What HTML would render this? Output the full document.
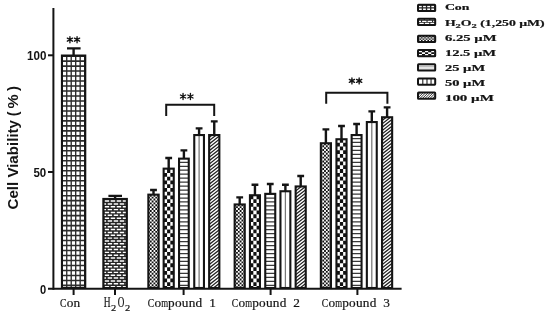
<!DOCTYPE html>
<html><head><meta charset="utf-8"><title>Cell Viability</title>
<style>
html,body{margin:0;padding:0;background:#fff;}
body{width:550px;height:316px;overflow:hidden;font-family:"Liberation Sans",sans-serif;}
svg{display:block;filter:blur(0.45px);}
.ax{font-family:"Liberation Sans",sans-serif;font-weight:bold;fill:#141414;}
.xs{font-family:"Liberation Serif",serif;fill:#141414;stroke:#141414;stroke-width:0.2px;}
.lg{font-family:"Liberation Serif",serif;font-weight:bold;fill:#141414;stroke:#141414;stroke-width:0.2px;}
</style></head><body>
<svg width="550" height="316" viewBox="0 0 550 316">
<defs>
<clipPath id="c1"><rect x="61.95" y="55.55" width="23.30" height="232.45"/></clipPath>
<clipPath id="c2"><rect x="103.35" y="198.95" width="23.50" height="89.05"/></clipPath>
<clipPath id="c3"><rect x="148.35" y="194.65" width="10.30" height="93.35"/></clipPath>
<clipPath id="c4"><rect x="163.65" y="168.65" width="10.10" height="119.35"/></clipPath>
<clipPath id="c5"><rect x="179.05" y="158.65" width="9.70" height="129.35"/></clipPath>
<clipPath id="c6"><rect x="194.25" y="135.05" width="9.70" height="152.95"/></clipPath>
<clipPath id="c7"><rect x="209.15" y="135.05" width="10.20" height="152.95"/></clipPath>
<clipPath id="c8"><rect x="234.65" y="204.45" width="10.10" height="83.55"/></clipPath>
<clipPath id="c9"><rect x="249.95" y="195.25" width="10.00" height="92.75"/></clipPath>
<clipPath id="c10"><rect x="265.25" y="193.85" width="10.00" height="94.15"/></clipPath>
<clipPath id="c11"><rect x="280.45" y="191.25" width="9.90" height="96.75"/></clipPath>
<clipPath id="c12"><rect x="295.65" y="186.45" width="10.10" height="101.55"/></clipPath>
<clipPath id="c13"><rect x="320.85" y="143.25" width="10.10" height="144.75"/></clipPath>
<clipPath id="c14"><rect x="336.45" y="139.25" width="10.10" height="148.75"/></clipPath>
<clipPath id="c15"><rect x="351.65" y="135.05" width="9.90" height="152.95"/></clipPath>
<clipPath id="c16"><rect x="366.85" y="122.05" width="9.90" height="165.95"/></clipPath>
<clipPath id="c17"><rect x="382.05" y="117.25" width="10.10" height="170.75"/></clipPath>
<clipPath id="c18"><rect x="418.00" y="4.80" width="17.20" height="6.30"/></clipPath>
<clipPath id="c19"><rect x="418.00" y="18.80" width="17.20" height="6.30"/></clipPath>
<clipPath id="c20"><rect x="418.00" y="35.80" width="17.20" height="6.30"/></clipPath>
<clipPath id="c21"><rect x="418.00" y="50.05" width="17.20" height="6.30"/></clipPath>
<clipPath id="c22"><rect x="418.00" y="64.30" width="17.20" height="6.30"/></clipPath>
<clipPath id="c23"><rect x="418.00" y="78.40" width="17.20" height="6.30"/></clipPath>
<clipPath id="c24"><rect x="418.00" y="92.55" width="17.20" height="6.30"/></clipPath>
</defs>
<rect width="550" height="316" fill="#fff"/>
<g stroke="#141414" stroke-width="2" fill="none">
<line x1="53.4" y1="8" x2="53.4" y2="289.8"/>
<line x1="48" y1="288.8" x2="401.6" y2="288.8"/>
<line x1="48" y1="172" x2="53" y2="172"/>
<line x1="48" y1="55.3" x2="53" y2="55.3"/>
<line x1="73.6" y1="289" x2="73.6" y2="295"/>
<line x1="115.0" y1="289" x2="115.0" y2="295"/>
<line x1="183.6" y1="289" x2="183.6" y2="295"/>
<line x1="270.6" y1="289" x2="270.6" y2="295"/>
<line x1="357.4" y1="289" x2="357.4" y2="295"/>
</g>
<path d="M73.60 48.20V55.50M67.00 48.40H80.60" stroke="#141414" stroke-width="2.4" fill="none"/>
<g clip-path="url(#c1)"><rect x="61.95" y="55.55" width="23.30" height="232.45" fill="#fff"/><path d="M57.78 55.55V288.00M62.26 55.55V288.00M66.74 55.55V288.00M71.22 55.55V288.00M75.70 55.55V288.00M80.18 55.55V288.00M84.66 55.55V288.00M89.14 55.55V288.00" stroke="#2c2c2c" stroke-width="1.35" fill="none"/><path d="M61.95 51.12H85.25M61.95 56.11H85.25M61.95 61.09H85.25M61.95 66.08H85.25M61.95 71.06H85.25M61.95 76.05H85.25M61.95 81.03H85.25M61.95 86.02H85.25M61.95 91.00H85.25M61.95 95.99H85.25M61.95 100.97H85.25M61.95 105.96H85.25M61.95 110.94H85.25M61.95 115.93H85.25M61.95 120.91H85.25M61.95 125.90H85.25M61.95 130.88H85.25M61.95 135.87H85.25M61.95 140.85H85.25M61.95 145.84H85.25M61.95 150.82H85.25M61.95 155.81H85.25M61.95 160.79H85.25M61.95 165.78H85.25M61.95 170.76H85.25M61.95 175.75H85.25M61.95 180.73H85.25M61.95 185.72H85.25M61.95 190.70H85.25M61.95 195.69H85.25M61.95 200.67H85.25M61.95 205.66H85.25M61.95 210.64H85.25M61.95 215.63H85.25M61.95 220.61H85.25M61.95 225.60H85.25M61.95 230.58H85.25M61.95 235.57H85.25M61.95 240.55H85.25M61.95 245.54H85.25M61.95 250.52H85.25M61.95 255.51H85.25M61.95 260.49H85.25M61.95 265.48H85.25M61.95 270.46H85.25M61.95 275.45H85.25M61.95 280.43H85.25M61.95 285.42H85.25M61.95 290.40H85.25" stroke="#2c2c2c" stroke-width="1.60" fill="none"/></g>
<rect x="61.95" y="55.55" width="23.30" height="232.45" fill="none" stroke="#141414" stroke-width="2.10"/>
<path d="M115.10 195.70V198.90M108.40 195.90H122.00" stroke="#141414" stroke-width="2.4" fill="none"/>
<g clip-path="url(#c2)"><rect x="103.35" y="198.95" width="23.50" height="89.05" fill="#262626"/><path d="M-15.90 201.05H132.88M-15.90 206.75H132.88M-15.90 212.46H132.88M-15.90 218.16H132.88M-15.90 223.87H132.88M-15.90 229.57H132.88M-15.90 235.27H132.88M-15.90 240.98H132.88M-15.90 246.68H132.88M-15.90 252.39H132.88M-15.90 258.09H132.88M-15.90 263.79H132.88M-15.90 269.50H132.88M-15.90 275.20H132.88M-15.90 280.91H132.88M-15.90 286.61H132.88" stroke="#fff" stroke-width="1.45" stroke-dasharray="4.400 1.630" fill="none"/><path d="M-18.92 198.20H132.88M-18.92 203.90H132.88M-18.92 209.61H132.88M-18.92 215.31H132.88M-18.92 221.01H132.88M-18.92 226.72H132.88M-18.92 232.42H132.88M-18.92 238.13H132.88M-18.92 243.83H132.88M-18.92 249.53H132.88M-18.92 255.24H132.88M-18.92 260.94H132.88M-18.92 266.65H132.88M-18.92 272.35H132.88M-18.92 278.05H132.88M-18.92 283.76H132.88M-18.92 289.46H132.88" stroke="#fff" stroke-width="1.45" stroke-dasharray="4.400 1.630" fill="none"/></g>
<rect x="103.35" y="198.95" width="23.50" height="89.05" fill="none" stroke="#141414" stroke-width="2.10"/>
<path d="M153.50 189.80V194.60M150.10 190.00H156.90" stroke="#141414" stroke-width="2.4" fill="none"/>
<g clip-path="url(#c3)"><rect x="148.35" y="194.65" width="10.30" height="93.35" fill="#fff"/><path d="M79.09 193.80H162.28M79.09 197.61H162.28M79.09 201.42H162.28M79.09 205.23H162.28M79.09 209.04H162.28M79.09 212.85H162.28M79.09 216.66H162.28M79.09 220.47H162.28M79.09 224.28H162.28M79.09 228.09H162.28M79.09 231.90H162.28M79.09 235.71H162.28M79.09 239.52H162.28M79.09 243.33H162.28M79.09 247.14H162.28M79.09 250.95H162.28M79.09 254.76H162.28M79.09 258.57H162.28M79.09 262.38H162.28M79.09 266.19H162.28M79.09 270.00H162.28M79.09 273.81H162.28M79.09 277.62H162.28M79.09 281.43H162.28M79.09 285.24H162.28M79.09 289.05H162.28" stroke="#111" stroke-width="1.91" stroke-dasharray="1.815 1.815" fill="none"/><path d="M80.90 195.71H162.28M80.90 199.52H162.28M80.90 203.33H162.28M80.90 207.14H162.28M80.90 210.95H162.28M80.90 214.76H162.28M80.90 218.57H162.28M80.90 222.38H162.28M80.90 226.19H162.28M80.90 230.00H162.28M80.90 233.81H162.28M80.90 237.62H162.28M80.90 241.43H162.28M80.90 245.24H162.28M80.90 249.05H162.28M80.90 252.86H162.28M80.90 256.67H162.28M80.90 260.48H162.28M80.90 264.29H162.28M80.90 268.10H162.28M80.90 271.91H162.28M80.90 275.72H162.28M80.90 279.53H162.28M80.90 283.34H162.28M80.90 287.14H162.28" stroke="#111" stroke-width="1.91" stroke-dasharray="1.815 1.815" fill="none"/></g>
<rect x="148.35" y="194.65" width="10.30" height="93.35" fill="none" stroke="#141414" stroke-width="2.10"/>
<path d="M168.70 157.80V168.60M165.30 158.00H172.10" stroke="#141414" stroke-width="2.4" fill="none"/>
<g clip-path="url(#c4)"><rect x="163.65" y="168.65" width="10.10" height="119.35" fill="#fff"/><path d="M37.48 171.00H180.23M37.48 178.54H180.23M37.48 186.08H180.23M37.48 193.62H180.23M37.48 201.16H180.23M37.48 208.70H180.23M37.48 216.24H180.23M37.48 223.78H180.23M37.48 231.32H180.23M37.48 238.86H180.23M37.48 246.40H180.23M37.48 253.94H180.23M37.48 261.48H180.23M37.48 269.02H180.23M37.48 276.56H180.23M37.48 284.10H180.23M37.48 291.64H180.23" stroke="#111" stroke-width="3.77" stroke-dasharray="3.240 3.240" fill="none"/><path d="M40.72 167.23H180.23M40.72 174.77H180.23M40.72 182.31H180.23M40.72 189.85H180.23M40.72 197.39H180.23M40.72 204.93H180.23M40.72 212.47H180.23M40.72 220.01H180.23M40.72 227.55H180.23M40.72 235.09H180.23M40.72 242.63H180.23M40.72 250.17H180.23M40.72 257.71H180.23M40.72 265.25H180.23M40.72 272.79H180.23M40.72 280.33H180.23M40.72 287.87H180.23" stroke="#111" stroke-width="3.77" stroke-dasharray="3.240 3.240" fill="none"/></g>
<rect x="163.65" y="168.65" width="10.10" height="119.35" fill="none" stroke="#141414" stroke-width="2.10"/>
<path d="M183.90 150.20V158.60M180.50 150.40H187.30" stroke="#141414" stroke-width="2.4" fill="none"/>
<g clip-path="url(#c5)"><rect x="179.05" y="158.65" width="9.70" height="129.35" fill="#fff"/><path d="M179.05 158.33H188.75M179.05 162.30H188.75M179.05 166.27H188.75M179.05 170.23H188.75M179.05 174.20H188.75M179.05 178.17H188.75M179.05 182.14H188.75M179.05 186.10H188.75M179.05 190.07H188.75M179.05 194.04H188.75M179.05 198.00H188.75M179.05 201.97H188.75M179.05 205.94H188.75M179.05 209.90H188.75M179.05 213.87H188.75M179.05 217.84H188.75M179.05 221.81H188.75M179.05 225.77H188.75M179.05 229.74H188.75M179.05 233.71H188.75M179.05 237.67H188.75M179.05 241.64H188.75M179.05 245.61H188.75M179.05 249.57H188.75M179.05 253.54H188.75M179.05 257.51H188.75M179.05 261.48H188.75M179.05 265.44H188.75M179.05 269.41H188.75M179.05 273.38H188.75M179.05 277.34H188.75M179.05 281.31H188.75M179.05 285.28H188.75M179.05 289.24H188.75" stroke="#3a3a3a" stroke-width="1.25" fill="none"/></g>
<rect x="179.05" y="158.65" width="9.70" height="129.35" fill="none" stroke="#141414" stroke-width="2.10"/>
<path d="M199.10 128.20V135.00M195.70 128.40H202.50" stroke="#141414" stroke-width="2.4" fill="none"/>
<g clip-path="url(#c6)"><rect x="194.25" y="135.05" width="9.70" height="152.95" fill="#fff"/><path d="M199.10 135.05V288.00" stroke="#777" stroke-width="1.25" fill="none"/></g>
<rect x="194.25" y="135.05" width="9.70" height="152.95" fill="none" stroke="#141414" stroke-width="2.10"/>
<path d="M214.25 121.20V135.00M210.85 121.40H217.65" stroke="#141414" stroke-width="2.4" fill="none"/>
<g clip-path="url(#c7)"><rect x="209.15" y="135.05" width="10.20" height="152.95" fill="#fff"/><path d="M208.15 131.44L220.35 121.80M208.15 134.79L220.35 125.15M208.15 138.14L220.35 128.50M208.15 141.49L220.35 131.85M208.15 144.84L220.35 135.20M208.15 148.19L220.35 138.55M208.15 151.54L220.35 141.90M208.15 154.89L220.35 145.25M208.15 158.24L220.35 148.60M208.15 161.59L220.35 151.95M208.15 164.94L220.35 155.30M208.15 168.29L220.35 158.65M208.15 171.64L220.35 162.00M208.15 174.99L220.35 165.35M208.15 178.34L220.35 168.70M208.15 181.69L220.35 172.05M208.15 185.04L220.35 175.40M208.15 188.39L220.35 178.75M208.15 191.74L220.35 182.10M208.15 195.09L220.35 185.45M208.15 198.44L220.35 188.80M208.15 201.79L220.35 192.15M208.15 205.14L220.35 195.50M208.15 208.49L220.35 198.85M208.15 211.84L220.35 202.20M208.15 215.19L220.35 205.55M208.15 218.54L220.35 208.90M208.15 221.89L220.35 212.25M208.15 225.24L220.35 215.60M208.15 228.59L220.35 218.95M208.15 231.94L220.35 222.30M208.15 235.29L220.35 225.65M208.15 238.64L220.35 229.00M208.15 241.99L220.35 232.35M208.15 245.34L220.35 235.70M208.15 248.69L220.35 239.05M208.15 252.04L220.35 242.40M208.15 255.39L220.35 245.75M208.15 258.74L220.35 249.10M208.15 262.09L220.35 252.45M208.15 265.44L220.35 255.80M208.15 268.79L220.35 259.15M208.15 272.14L220.35 262.50M208.15 275.49L220.35 265.85M208.15 278.84L220.35 269.20M208.15 282.19L220.35 272.55M208.15 285.54L220.35 275.90M208.15 288.89L220.35 279.25M208.15 292.24L220.35 282.60M208.15 295.59L220.35 285.95M208.15 298.94L220.35 289.30" stroke="#222" stroke-width="1.25" fill="none"/></g>
<rect x="209.15" y="135.05" width="10.20" height="152.95" fill="none" stroke="#141414" stroke-width="2.10"/>
<path d="M239.70 197.20V204.40M236.30 197.40H243.10" stroke="#141414" stroke-width="2.4" fill="none"/>
<g clip-path="url(#c8)"><rect x="234.65" y="204.45" width="10.10" height="83.55" fill="#fff"/><path d="M165.28 205.23H248.38M165.28 209.04H248.38M165.28 212.85H248.38M165.28 216.66H248.38M165.28 220.47H248.38M165.28 224.28H248.38M165.28 228.09H248.38M165.28 231.90H248.38M165.28 235.71H248.38M165.28 239.52H248.38M165.28 243.33H248.38M165.28 247.14H248.38M165.28 250.95H248.38M165.28 254.76H248.38M165.28 258.57H248.38M165.28 262.38H248.38M165.28 266.19H248.38M165.28 270.00H248.38M165.28 273.81H248.38M165.28 277.62H248.38M165.28 281.43H248.38M165.28 285.24H248.38M165.28 289.05H248.38" stroke="#111" stroke-width="1.91" stroke-dasharray="1.815 1.815" fill="none"/><path d="M167.10 203.33H248.38M167.10 207.14H248.38M167.10 210.95H248.38M167.10 214.76H248.38M167.10 218.57H248.38M167.10 222.38H248.38M167.10 226.19H248.38M167.10 230.00H248.38M167.10 233.81H248.38M167.10 237.62H248.38M167.10 241.43H248.38M167.10 245.24H248.38M167.10 249.05H248.38M167.10 252.86H248.38M167.10 256.67H248.38M167.10 260.48H248.38M167.10 264.29H248.38M167.10 268.10H248.38M167.10 271.91H248.38M167.10 275.72H248.38M167.10 279.53H248.38M167.10 283.34H248.38M167.10 287.14H248.38" stroke="#111" stroke-width="1.91" stroke-dasharray="1.815 1.815" fill="none"/></g>
<rect x="234.65" y="204.45" width="10.10" height="83.55" fill="none" stroke="#141414" stroke-width="2.10"/>
<path d="M254.95 184.60V195.20M251.55 184.80H258.35" stroke="#141414" stroke-width="2.4" fill="none"/>
<g clip-path="url(#c9)"><rect x="249.95" y="195.25" width="10.00" height="92.75" fill="#fff"/><path d="M123.73 193.62H266.43M123.73 201.16H266.43M123.73 208.70H266.43M123.73 216.24H266.43M123.73 223.78H266.43M123.73 231.32H266.43M123.73 238.86H266.43M123.73 246.40H266.43M123.73 253.94H266.43M123.73 261.48H266.43M123.73 269.02H266.43M123.73 276.56H266.43M123.73 284.10H266.43M123.73 291.64H266.43" stroke="#111" stroke-width="3.77" stroke-dasharray="3.240 3.240" fill="none"/><path d="M126.97 197.39H266.43M126.97 204.93H266.43M126.97 212.47H266.43M126.97 220.01H266.43M126.97 227.55H266.43M126.97 235.09H266.43M126.97 242.63H266.43M126.97 250.17H266.43M126.97 257.71H266.43M126.97 265.25H266.43M126.97 272.79H266.43M126.97 280.33H266.43M126.97 287.87H266.43" stroke="#111" stroke-width="3.77" stroke-dasharray="3.240 3.240" fill="none"/></g>
<rect x="249.95" y="195.25" width="10.00" height="92.75" fill="none" stroke="#141414" stroke-width="2.10"/>
<path d="M270.25 183.80V193.80M266.85 184.00H273.65" stroke="#141414" stroke-width="2.4" fill="none"/>
<g clip-path="url(#c10)"><rect x="265.25" y="193.85" width="10.00" height="94.15" fill="#fff"/><path d="M265.25 190.07H275.25M265.25 194.04H275.25M265.25 198.00H275.25M265.25 201.97H275.25M265.25 205.94H275.25M265.25 209.90H275.25M265.25 213.87H275.25M265.25 217.84H275.25M265.25 221.81H275.25M265.25 225.77H275.25M265.25 229.74H275.25M265.25 233.71H275.25M265.25 237.67H275.25M265.25 241.64H275.25M265.25 245.61H275.25M265.25 249.57H275.25M265.25 253.54H275.25M265.25 257.51H275.25M265.25 261.48H275.25M265.25 265.44H275.25M265.25 269.41H275.25M265.25 273.38H275.25M265.25 277.34H275.25M265.25 281.31H275.25M265.25 285.28H275.25M265.25 289.24H275.25" stroke="#3a3a3a" stroke-width="1.25" fill="none"/></g>
<rect x="265.25" y="193.85" width="10.00" height="94.15" fill="none" stroke="#141414" stroke-width="2.10"/>
<path d="M285.40 184.60V191.20M282.00 184.80H288.80" stroke="#141414" stroke-width="2.4" fill="none"/>
<g clip-path="url(#c11)"><rect x="280.45" y="191.25" width="9.90" height="96.75" fill="#fff"/><path d="M285.40 191.25V288.00" stroke="#777" stroke-width="1.25" fill="none"/></g>
<rect x="280.45" y="191.25" width="9.90" height="96.75" fill="none" stroke="#141414" stroke-width="2.10"/>
<path d="M300.70 175.80V186.40M297.30 176.00H304.10" stroke="#141414" stroke-width="2.4" fill="none"/>
<g clip-path="url(#c12)"><rect x="295.65" y="186.45" width="10.10" height="101.55" fill="#fff"/><path d="M294.65 181.69L306.75 172.13M294.65 185.04L306.75 175.48M294.65 188.39L306.75 178.83M294.65 191.74L306.75 182.18M294.65 195.09L306.75 185.53M294.65 198.44L306.75 188.88M294.65 201.79L306.75 192.23M294.65 205.14L306.75 195.58M294.65 208.49L306.75 198.93M294.65 211.84L306.75 202.28M294.65 215.19L306.75 205.63M294.65 218.54L306.75 208.98M294.65 221.89L306.75 212.33M294.65 225.24L306.75 215.68M294.65 228.59L306.75 219.03M294.65 231.94L306.75 222.38M294.65 235.29L306.75 225.73M294.65 238.64L306.75 229.08M294.65 241.99L306.75 232.43M294.65 245.34L306.75 235.78M294.65 248.69L306.75 239.13M294.65 252.04L306.75 242.48M294.65 255.39L306.75 245.83M294.65 258.74L306.75 249.18M294.65 262.09L306.75 252.53M294.65 265.44L306.75 255.88M294.65 268.79L306.75 259.23M294.65 272.14L306.75 262.58M294.65 275.49L306.75 265.93M294.65 278.84L306.75 269.28M294.65 282.19L306.75 272.63M294.65 285.54L306.75 275.98M294.65 288.89L306.75 279.33M294.65 292.24L306.75 282.68M294.65 295.59L306.75 286.03M294.65 298.94L306.75 289.38" stroke="#222" stroke-width="1.25" fill="none"/></g>
<rect x="295.65" y="186.45" width="10.10" height="101.55" fill="none" stroke="#141414" stroke-width="2.10"/>
<path d="M325.90 129.20V143.20M322.50 129.40H329.30" stroke="#141414" stroke-width="2.4" fill="none"/>
<g clip-path="url(#c13)"><rect x="320.85" y="143.25" width="10.10" height="144.75" fill="#fff"/><path d="M251.48 144.27H334.58M251.48 148.08H334.58M251.48 151.89H334.58M251.48 155.70H334.58M251.48 159.51H334.58M251.48 163.32H334.58M251.48 167.13H334.58M251.48 170.94H334.58M251.48 174.75H334.58M251.48 178.56H334.58M251.48 182.37H334.58M251.48 186.18H334.58M251.48 189.99H334.58M251.48 193.80H334.58M251.48 197.61H334.58M251.48 201.42H334.58M251.48 205.23H334.58M251.48 209.04H334.58M251.48 212.85H334.58M251.48 216.66H334.58M251.48 220.47H334.58M251.48 224.28H334.58M251.48 228.09H334.58M251.48 231.90H334.58M251.48 235.71H334.58M251.48 239.52H334.58M251.48 243.33H334.58M251.48 247.14H334.58M251.48 250.95H334.58M251.48 254.76H334.58M251.48 258.57H334.58M251.48 262.38H334.58M251.48 266.19H334.58M251.48 270.00H334.58M251.48 273.81H334.58M251.48 277.62H334.58M251.48 281.43H334.58M251.48 285.24H334.58M251.48 289.05H334.58" stroke="#111" stroke-width="1.91" stroke-dasharray="1.815 1.815" fill="none"/><path d="M253.30 142.37H334.58M253.30 146.18H334.58M253.30 149.99H334.58M253.30 153.80H334.58M253.30 157.61H334.58M253.30 161.42H334.58M253.30 165.23H334.58M253.30 169.04H334.58M253.30 172.85H334.58M253.30 176.66H334.58M253.30 180.47H334.58M253.30 184.28H334.58M253.30 188.09H334.58M253.30 191.90H334.58M253.30 195.71H334.58M253.30 199.52H334.58M253.30 203.33H334.58M253.30 207.14H334.58M253.30 210.95H334.58M253.30 214.76H334.58M253.30 218.57H334.58M253.30 222.38H334.58M253.30 226.19H334.58M253.30 230.00H334.58M253.30 233.81H334.58M253.30 237.62H334.58M253.30 241.43H334.58M253.30 245.24H334.58M253.30 249.05H334.58M253.30 252.86H334.58M253.30 256.67H334.58M253.30 260.48H334.58M253.30 264.29H334.58M253.30 268.10H334.58M253.30 271.91H334.58M253.30 275.72H334.58M253.30 279.53H334.58M253.30 283.34H334.58M253.30 287.14H334.58" stroke="#111" stroke-width="1.91" stroke-dasharray="1.815 1.815" fill="none"/></g>
<rect x="320.85" y="143.25" width="10.10" height="144.75" fill="none" stroke="#141414" stroke-width="2.10"/>
<path d="M341.50 125.80V139.20M338.10 126.00H344.90" stroke="#141414" stroke-width="2.4" fill="none"/>
<g clip-path="url(#c14)"><rect x="336.45" y="139.25" width="10.10" height="148.75" fill="#fff"/><path d="M210.28 140.84H353.03M210.28 148.38H353.03M210.28 155.92H353.03M210.28 163.46H353.03M210.28 171.00H353.03M210.28 178.54H353.03M210.28 186.08H353.03M210.28 193.62H353.03M210.28 201.16H353.03M210.28 208.70H353.03M210.28 216.24H353.03M210.28 223.78H353.03M210.28 231.32H353.03M210.28 238.86H353.03M210.28 246.40H353.03M210.28 253.94H353.03M210.28 261.48H353.03M210.28 269.02H353.03M210.28 276.56H353.03M210.28 284.10H353.03M210.28 291.64H353.03" stroke="#111" stroke-width="3.77" stroke-dasharray="3.240 3.240" fill="none"/><path d="M213.52 137.07H353.03M213.52 144.61H353.03M213.52 152.15H353.03M213.52 159.69H353.03M213.52 167.23H353.03M213.52 174.77H353.03M213.52 182.31H353.03M213.52 189.85H353.03M213.52 197.39H353.03M213.52 204.93H353.03M213.52 212.47H353.03M213.52 220.01H353.03M213.52 227.55H353.03M213.52 235.09H353.03M213.52 242.63H353.03M213.52 250.17H353.03M213.52 257.71H353.03M213.52 265.25H353.03M213.52 272.79H353.03M213.52 280.33H353.03M213.52 287.87H353.03" stroke="#111" stroke-width="3.77" stroke-dasharray="3.240 3.240" fill="none"/></g>
<rect x="336.45" y="139.25" width="10.10" height="148.75" fill="none" stroke="#141414" stroke-width="2.10"/>
<path d="M356.60 123.80V135.00M353.20 124.00H360.00" stroke="#141414" stroke-width="2.4" fill="none"/>
<g clip-path="url(#c15)"><rect x="351.65" y="135.05" width="9.90" height="152.95" fill="#fff"/><path d="M351.65 134.53H361.55M351.65 138.50H361.55M351.65 142.47H361.55M351.65 146.43H361.55M351.65 150.40H361.55M351.65 154.37H361.55M351.65 158.33H361.55M351.65 162.30H361.55M351.65 166.27H361.55M351.65 170.23H361.55M351.65 174.20H361.55M351.65 178.17H361.55M351.65 182.14H361.55M351.65 186.10H361.55M351.65 190.07H361.55M351.65 194.04H361.55M351.65 198.00H361.55M351.65 201.97H361.55M351.65 205.94H361.55M351.65 209.90H361.55M351.65 213.87H361.55M351.65 217.84H361.55M351.65 221.81H361.55M351.65 225.77H361.55M351.65 229.74H361.55M351.65 233.71H361.55M351.65 237.67H361.55M351.65 241.64H361.55M351.65 245.61H361.55M351.65 249.57H361.55M351.65 253.54H361.55M351.65 257.51H361.55M351.65 261.48H361.55M351.65 265.44H361.55M351.65 269.41H361.55M351.65 273.38H361.55M351.65 277.34H361.55M351.65 281.31H361.55M351.65 285.28H361.55M351.65 289.24H361.55" stroke="#3a3a3a" stroke-width="1.25" fill="none"/></g>
<rect x="351.65" y="135.05" width="9.90" height="152.95" fill="none" stroke="#141414" stroke-width="2.10"/>
<path d="M371.80 111.20V122.00M368.40 111.40H375.20" stroke="#141414" stroke-width="2.4" fill="none"/>
<g clip-path="url(#c16)"><rect x="366.85" y="122.05" width="9.90" height="165.95" fill="#fff"/><path d="M371.80 122.05V288.00" stroke="#777" stroke-width="1.25" fill="none"/></g>
<rect x="366.85" y="122.05" width="9.90" height="165.95" fill="none" stroke="#141414" stroke-width="2.10"/>
<path d="M387.10 107.20V117.20M383.70 107.40H390.50" stroke="#141414" stroke-width="2.4" fill="none"/>
<g clip-path="url(#c17)"><rect x="382.05" y="117.25" width="10.10" height="170.75" fill="#fff"/><path d="M381.05 114.69L393.15 105.13M381.05 118.04L393.15 108.48M381.05 121.39L393.15 111.83M381.05 124.74L393.15 115.18M381.05 128.09L393.15 118.53M381.05 131.44L393.15 121.88M381.05 134.79L393.15 125.23M381.05 138.14L393.15 128.58M381.05 141.49L393.15 131.93M381.05 144.84L393.15 135.28M381.05 148.19L393.15 138.63M381.05 151.54L393.15 141.98M381.05 154.89L393.15 145.33M381.05 158.24L393.15 148.68M381.05 161.59L393.15 152.03M381.05 164.94L393.15 155.38M381.05 168.29L393.15 158.73M381.05 171.64L393.15 162.08M381.05 174.99L393.15 165.43M381.05 178.34L393.15 168.78M381.05 181.69L393.15 172.13M381.05 185.04L393.15 175.48M381.05 188.39L393.15 178.83M381.05 191.74L393.15 182.18M381.05 195.09L393.15 185.53M381.05 198.44L393.15 188.88M381.05 201.79L393.15 192.23M381.05 205.14L393.15 195.58M381.05 208.49L393.15 198.93M381.05 211.84L393.15 202.28M381.05 215.19L393.15 205.63M381.05 218.54L393.15 208.98M381.05 221.89L393.15 212.33M381.05 225.24L393.15 215.68M381.05 228.59L393.15 219.03M381.05 231.94L393.15 222.38M381.05 235.29L393.15 225.73M381.05 238.64L393.15 229.08M381.05 241.99L393.15 232.43M381.05 245.34L393.15 235.78M381.05 248.69L393.15 239.13M381.05 252.04L393.15 242.48M381.05 255.39L393.15 245.83M381.05 258.74L393.15 249.18M381.05 262.09L393.15 252.53M381.05 265.44L393.15 255.88M381.05 268.79L393.15 259.23M381.05 272.14L393.15 262.58M381.05 275.49L393.15 265.93M381.05 278.84L393.15 269.28M381.05 282.19L393.15 272.63M381.05 285.54L393.15 275.98M381.05 288.89L393.15 279.33M381.05 292.24L393.15 282.68M381.05 295.59L393.15 286.03M381.05 298.94L393.15 289.38" stroke="#222" stroke-width="1.25" fill="none"/></g>
<rect x="382.05" y="117.25" width="10.10" height="170.75" fill="none" stroke="#141414" stroke-width="2.10"/>
<g stroke="#141414" stroke-width="2" fill="none">
<polyline points="166.2,116 166.2,104.8 214.2,104.8 214.2,116"/>
<polyline points="326.2,103.8 326.2,92.8 387.4,92.8 387.4,103.8"/>
</g>
<path d="M69.93 36.70L69.93 42.70M67.33 38.20L72.53 41.20M72.53 38.20L67.33 41.20" stroke="#141414" stroke-width="1.35" stroke-linecap="round" fill="none"/><circle cx="69.93" cy="39.70" r="1.0" fill="#141414"/>
<path d="M77.06 36.70L77.06 42.70M74.46 38.20L79.66 41.20M79.66 38.20L74.46 41.20" stroke="#141414" stroke-width="1.35" stroke-linecap="round" fill="none"/><circle cx="77.06" cy="39.70" r="1.0" fill="#141414"/>
<path d="M183.05 93.50L183.05 99.50M180.45 95.00L185.65 98.00M185.65 95.00L180.45 98.00" stroke="#141414" stroke-width="1.35" stroke-linecap="round" fill="none"/><circle cx="183.05" cy="96.50" r="1.0" fill="#141414"/>
<path d="M190.43 93.50L190.43 99.50M187.83 95.00L193.03 98.00M193.03 95.00L187.83 98.00" stroke="#141414" stroke-width="1.35" stroke-linecap="round" fill="none"/><circle cx="190.43" cy="96.50" r="1.0" fill="#141414"/>
<path d="M351.93 77.90L351.93 83.90M349.33 79.40L354.53 82.40M354.53 79.40L349.33 82.40" stroke="#141414" stroke-width="1.35" stroke-linecap="round" fill="none"/><circle cx="351.93" cy="80.90" r="1.0" fill="#141414"/>
<path d="M359.16 77.90L359.16 83.90M356.56 79.40L361.76 82.40M361.76 79.40L356.56 82.40" stroke="#141414" stroke-width="1.35" stroke-linecap="round" fill="none"/><circle cx="359.16" cy="80.90" r="1.0" fill="#141414"/>
<text class="ax" x="27.0" y="60.2" font-size="12.8" textLength="19.4" lengthAdjust="spacingAndGlyphs">100</text>
<text class="ax" x="33.4" y="177.2" font-size="12.8" textLength="12.8" lengthAdjust="spacingAndGlyphs">50</text>
<text class="ax" x="40.0" y="293.9" font-size="12.8" textLength="6.2" lengthAdjust="spacingAndGlyphs">0</text>
<g transform="translate(17.8,209.5) rotate(-90)" font-size="14.6"><text class="ax" x="0" y="0" textLength="89.5" lengthAdjust="spacingAndGlyphs">Cell Viability</text><text class="ax" x="93.2" y="0">(</text><text class="ax" x="101.0" y="0" textLength="14.2" lengthAdjust="spacingAndGlyphs">%</text><text class="ax" x="118.4" y="0">)</text></g>
<text class="xs" x="60.08" y="307.4" font-size="13.3" textLength="6.4" lengthAdjust="spacingAndGlyphs">C</text><text class="xs" x="70.10" y="307.4" font-size="13.3" text-anchor="middle">o</text><text class="xs" x="76.92" y="307.4" font-size="13.3" text-anchor="middle">n</text>
<text class="xs" x="103.7" y="307.2" font-size="13.8" textLength="6.8" lengthAdjust="spacingAndGlyphs">H</text><text class="xs" x="111.0" y="311.2" font-size="8.8" textLength="5.2" lengthAdjust="spacingAndGlyphs">2</text><text class="xs" x="117.7" y="307.2" font-size="13.8" textLength="6.6" lengthAdjust="spacingAndGlyphs">O</text><text class="xs" x="125.0" y="311.2" font-size="8.8" textLength="5.2" lengthAdjust="spacingAndGlyphs">2</text>
<text class="xs" x="147.69" y="307.4" font-size="13.3" textLength="6.4" lengthAdjust="spacingAndGlyphs">C</text><text class="xs" x="157.73" y="307.4" font-size="13.3" text-anchor="middle">o</text><text class="xs" x="161.13" y="307.4" font-size="13.3" textLength="6.9" lengthAdjust="spacingAndGlyphs">m</text><text class="xs" x="171.43" y="307.4" font-size="13.3" text-anchor="middle">p</text><text class="xs" x="178.28" y="307.4" font-size="13.3" text-anchor="middle">o</text><text class="xs" x="185.12" y="307.4" font-size="13.3" text-anchor="middle">u</text><text class="xs" x="191.97" y="307.4" font-size="13.3" text-anchor="middle">n</text><text class="xs" x="198.82" y="307.4" font-size="13.3" text-anchor="middle">d</text><text class="xs" x="212.51" y="307.4" font-size="13.3" text-anchor="middle">1</text>
<text class="xs" x="231.70" y="307.4" font-size="13.3" textLength="6.4" lengthAdjust="spacingAndGlyphs">C</text><text class="xs" x="241.76" y="307.4" font-size="13.3" text-anchor="middle">o</text><text class="xs" x="245.18" y="307.4" font-size="13.3" textLength="6.9" lengthAdjust="spacingAndGlyphs">m</text><text class="xs" x="255.50" y="307.4" font-size="13.3" text-anchor="middle">p</text><text class="xs" x="262.37" y="307.4" font-size="13.3" text-anchor="middle">o</text><text class="xs" x="269.23" y="307.4" font-size="13.3" text-anchor="middle">u</text><text class="xs" x="276.10" y="307.4" font-size="13.3" text-anchor="middle">n</text><text class="xs" x="282.97" y="307.4" font-size="13.3" text-anchor="middle">d</text><text class="xs" x="296.70" y="307.4" font-size="13.3" text-anchor="middle">2</text>
<text class="xs" x="321.70" y="307.4" font-size="13.3" textLength="6.4" lengthAdjust="spacingAndGlyphs">C</text><text class="xs" x="331.76" y="307.4" font-size="13.3" text-anchor="middle">o</text><text class="xs" x="335.18" y="307.4" font-size="13.3" textLength="6.9" lengthAdjust="spacingAndGlyphs">m</text><text class="xs" x="345.50" y="307.4" font-size="13.3" text-anchor="middle">p</text><text class="xs" x="352.37" y="307.4" font-size="13.3" text-anchor="middle">o</text><text class="xs" x="359.23" y="307.4" font-size="13.3" text-anchor="middle">u</text><text class="xs" x="366.10" y="307.4" font-size="13.3" text-anchor="middle">n</text><text class="xs" x="372.97" y="307.4" font-size="13.3" text-anchor="middle">d</text><text class="xs" x="386.70" y="307.4" font-size="13.3" text-anchor="middle">3</text>
<g clip-path="url(#c18)"><rect x="418.00" y="4.80" width="17.20" height="6.30" fill="#fff"/><path d="M414.18 4.80V11.10M418.30 4.80V11.10M422.42 4.80V11.10M426.54 4.80V11.10M430.66 4.80V11.10M434.78 4.80V11.10M438.90 4.80V11.10" stroke="#262626" stroke-width="1.35" fill="none"/><path d="M418.00 1.78H435.20M418.00 4.82H435.20M418.00 7.88H435.20M418.00 10.92H435.20M418.00 13.97H435.20" stroke="#262626" stroke-width="1.25" fill="none"/></g>
<rect x="418.00" y="4.80" width="17.20" height="6.30" fill="none" stroke="#141414" stroke-width="2.00" rx="0.6"/>
<g clip-path="url(#c19)"><rect x="418.00" y="18.80" width="17.20" height="6.30" fill="#262626"/><path d="M309.35 19.50H440.70M309.35 23.30H440.70" stroke="#fff" stroke-width="1.15" stroke-dasharray="4.400 1.100" fill="none"/><path d="M306.60 17.60H440.70M306.60 21.40H440.70M306.60 25.20H440.70" stroke="#fff" stroke-width="1.15" stroke-dasharray="4.400 1.100" fill="none"/><rect x="418.00" y="18.80" width="17.20" height="1.0" fill="#262626" opacity="0.45"/></g>
<rect x="418.00" y="18.80" width="17.20" height="6.30" fill="none" stroke="#141414" stroke-width="2.00" rx="0.6"/>
<g clip-path="url(#c20)"><rect x="418.00" y="35.80" width="17.20" height="6.30" fill="#fff"/><path d="M361.80 36.55H438.40M361.80 39.09H438.40M361.80 41.63H438.40" stroke="#111" stroke-width="1.27" stroke-dasharray="1.600 1.600" fill="none"/><path d="M363.40 35.28H438.40M363.40 37.82H438.40M363.40 40.36H438.40M363.40 42.90H438.40" stroke="#111" stroke-width="1.27" stroke-dasharray="1.600 1.600" fill="none"/></g>
<rect x="418.00" y="35.80" width="17.20" height="6.30" fill="none" stroke="#141414" stroke-width="2.00" rx="0.6"/>
<g clip-path="url(#c21)"><rect x="418.00" y="50.05" width="17.20" height="6.30" fill="#fff"/><path d="M297.95 51.50H441.40M297.95 54.90H441.40" stroke="#111" stroke-width="1.70" stroke-dasharray="3.100 3.100" fill="none"/><path d="M301.05 49.80H441.40M301.05 53.20H441.40M301.05 56.60H441.40" stroke="#111" stroke-width="1.70" stroke-dasharray="3.100 3.100" fill="none"/></g>
<rect x="418.00" y="50.05" width="17.20" height="6.30" fill="none" stroke="#141414" stroke-width="2.00" rx="0.6"/>
<g clip-path="url(#c22)"><rect x="418.00" y="64.30" width="17.20" height="6.30" fill="#fff"/><rect x="418.00" y="66.50" width="17.20" height="4.10" fill="#e4e4e4"/><rect x="418.00" y="65.80" width="17.20" height="0.7" fill="#8a8a8a"/></g>
<rect x="418.00" y="64.30" width="17.20" height="6.30" fill="none" stroke="#141414" stroke-width="2.00" rx="0.6"/>
<g clip-path="url(#c23)"><rect x="418.00" y="78.40" width="17.20" height="6.30" fill="#fff"/><path d="M422.76 78.40V84.70M426.98 78.40V84.70M431.06 78.40V84.70" stroke="#444" stroke-width="1.30" fill="none"/></g>
<rect x="418.00" y="78.40" width="17.20" height="6.30" fill="none" stroke="#141414" stroke-width="2.00" rx="0.6"/>
<g clip-path="url(#c24)"><rect x="418.00" y="92.55" width="17.20" height="6.30" fill="#fff"/><path d="M417.00 88.90L436.20 69.70M417.00 91.40L436.20 72.20M417.00 93.90L436.20 74.70M417.00 96.40L436.20 77.20M417.00 98.90L436.20 79.70M417.00 101.40L436.20 82.20M417.00 103.90L436.20 84.70M417.00 106.40L436.20 87.20M417.00 108.90L436.20 89.70M417.00 111.40L436.20 92.20M417.00 113.90L436.20 94.70M417.00 116.40L436.20 97.20M417.00 118.90L436.20 99.70" stroke="#222" stroke-width="0.90" fill="none"/></g>
<rect x="418.00" y="92.55" width="17.20" height="6.30" fill="none" stroke="#141414" stroke-width="2.00" rx="0.6"/>
<text class="lg" x="444.9" y="10.2" font-size="9.2" textLength="24.6" lengthAdjust="spacingAndGlyphs">Con</text>
<text class="lg" x="444.9" y="25.5" font-size="9.2" textLength="99.8" lengthAdjust="spacingAndGlyphs">H<tspan dy="2.4" font-size="7">2</tspan><tspan dy="-2.4">O</tspan><tspan dy="2.4" font-size="7">2</tspan><tspan dy="-2.4"> (1,250 µM)</tspan></text>
<text class="lg" x="444.9" y="40.7" font-size="9.2" textLength="51.6" lengthAdjust="spacingAndGlyphs">6.25 µM</text>
<text class="lg" x="444.9" y="55.7" font-size="9.2" textLength="51.2" lengthAdjust="spacingAndGlyphs">12.5 µM</text>
<text class="lg" x="444.9" y="70.7" font-size="9.2" textLength="40.2" lengthAdjust="spacingAndGlyphs">25 µM</text>
<text class="lg" x="444.9" y="86.0" font-size="9.2" textLength="40.2" lengthAdjust="spacingAndGlyphs">50 µM</text>
<text class="lg" x="444.9" y="101.1" font-size="9.2" textLength="49.0" lengthAdjust="spacingAndGlyphs">100 µM</text>
</svg></body></html>
